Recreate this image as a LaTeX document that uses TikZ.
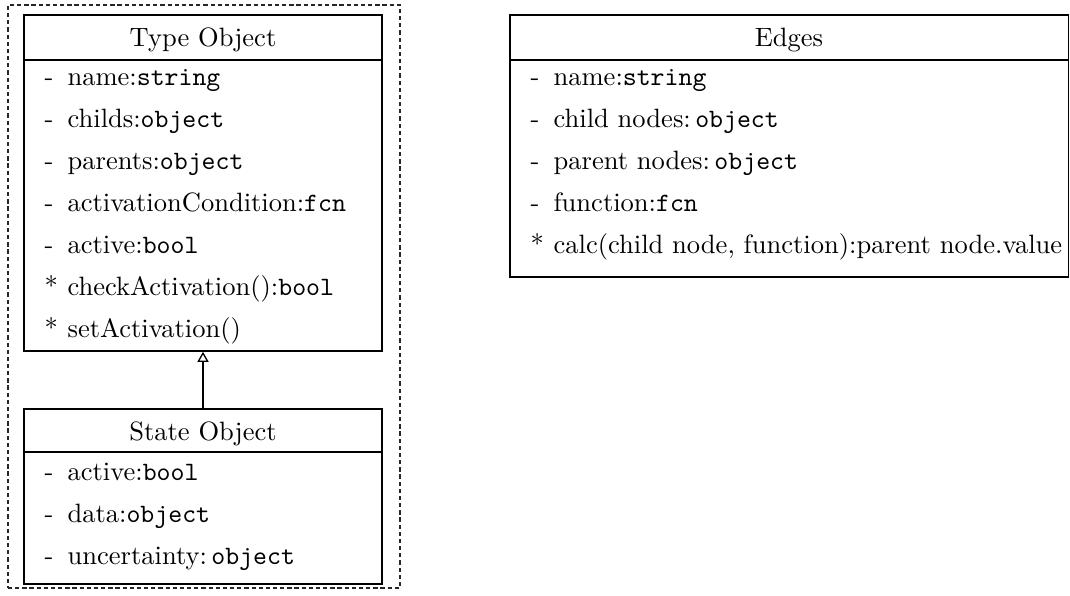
\documentclass[tikz,border=0pt]{standalone}
\usetikzlibrary{arrows.meta,fit}
\tikzset{
  umlbox/.style={draw=black, line width=0.6pt, inner sep=0pt},
  grp/.style={draw=black!85, line width=0.4pt, dash pattern=on 1.6pt off 1.1pt, inner sep=0pt},
  hdr/.style={anchor=base, inner sep=0pt},
  item/.style={anchor=base west, inner sep=0pt},
  sepline/.style={line width=0.6pt},
  inherit/.style={-{Triangle[open,length=3.8pt,width=4.2pt]}, line width=0.5pt},
}
\newcommand{\mrk}[2]{\makebox[8.7pt][l]{#1}#2}
\begin{document}
\begin{tikzpicture}[x=0.377pt,y=-0.377pt]
\useasboundingbox (0,0) rectangle (1070,595);
% group
\node[grp, fit={(8,5) (400,588)}] (group) {};
% Type Object
\node[umlbox, fit={(24,15) (382,351)}] (type) {};
\draw[sepline] (type.west |- 0,60) -- (type.east |- 0,60);
\node[hdr] (typeH) at (203,46) {Type Object};
\node[item] (t1) at (44,85)  {\mrk{-}{name:\texttt{string}}};
\node[item] (t2) at (44,127) {\mrk{-}{childs:\texttt{object}}};
\node[item] (t3) at (44,169) {\mrk{-}{parents:\texttt{object}}};
\node[item] (t4) at (44,211) {\mrk{-}{activationCondition:\texttt{fcn}}};
\node[item] (t5) at (44,253) {\mrk{-}{active:\texttt{bool}}};
\node[item] (t6) at (44,295) {\mrk{*}{checkActivation():\texttt{bool}}};
\node[item] (t7) at (44,337) {\mrk{*}{setActivation()}};
% State Object
\node[umlbox, fit={(24,409) (382,584)}] (state) {};
\draw[sepline] (state.west |- 0,452) -- (state.east |- 0,452);
\node[hdr] (stateH) at (203,440) {State Object};
\node[item] (s1) at (44,480) {\mrk{-}{active:\texttt{bool}}};
\node[item] (s2) at (44,522) {\mrk{-}{data:\texttt{object}}};
\node[item] (s3) at (44,564) {\mrk{-}{uncertainty:\,\texttt{object}}};
% inheritance
\draw[inherit] (state.north) -- (type.south);
% Edges
\node[umlbox, fit={(510,15) (1068.5,277)}] (edges) {};
\draw[sepline] (edges.west |- 0,60) -- (edges.east |- 0,60);
\node[hdr] (edgesH) at (789,46) {Edges};
\node[item] (e1) at (530,85)  {\mrk{-}{name:\texttt{string}}};
\node[item] (e2) at (530,127) {\mrk{-}{child nodes:\,\texttt{object}}};
\node[item] (e3) at (530,169) {\mrk{-}{parent nodes:\,\texttt{object}}};
\node[item] (e4) at (530,211) {\mrk{-}{function:\texttt{fcn}}};
\node[item] (e5) at (530,253) {\mrk{*}{calc(child node, function):parent node.value}};
\end{tikzpicture}
\end{document}
